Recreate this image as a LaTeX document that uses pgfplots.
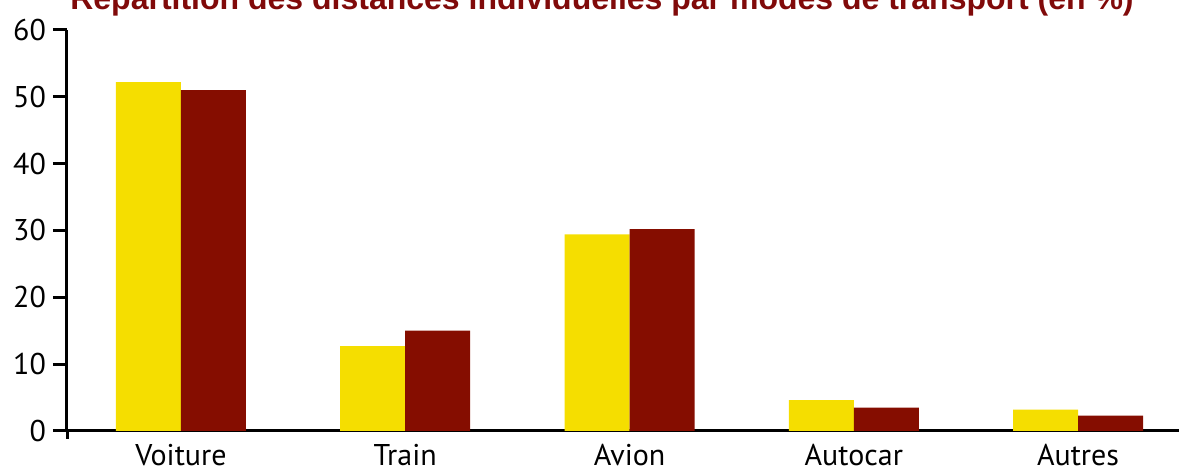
\documentclass[border=0pt]{standalone}
\usepackage{fontspec}
\usepackage{pgfplots}
\pgfplotsset{compat=1.18}
\setmainfont{PT Sans}
\newfontfamily\titlefont{Liberation Sans}

\definecolor{barYellow}{RGB}{245,222,0}
\definecolor{barRed}{RGB}{133,13,0}
\definecolor{titleRed}{RGB}{128,10,10}

\begin{document}
\begin{tikzpicture}
\begin{axis}[
    scale only axis,
    width=556pt, height=200.5pt,
    xmin=-0.508, xmax=4.45,
    ymin=0, ymax=60,
    ytick={0,10,...,60},
    xtick=data,
    xticklabels={Voiture,Train,Avion,Autocar,Autres},
    axis x line=bottom, axis y line=left,
    axis line style={line width=1.5pt, -},
    tick align=outside,
    ytick pos=left,
    major tick length=7pt,
    ytick style={line width=1.5pt, black},
    xtick style={draw=none},
    xticklabel style={yshift=4pt},
    ybar=0pt, bar width=32.5pt,
    /pgf/number format/assume math mode=true,
    tick label style={font=\fontsize{15}{15}\selectfont},
    clip=false,
]
\addplot[fill=barYellow, draw=none] coordinates {(0,52.2) (1,12.7) (2,29.4) (3,4.6) (4,3.2)};
\addplot[fill=barRed, draw=none] coordinates {(0,51.0) (1,15.0) (2,30.2) (3,3.5) (4,2.3)};
\end{axis}
% the y axis runs a little below the x axis
\draw[line width=1.5pt] (current axis.south west) -- ([yshift=-4pt]current axis.south west);
\node[anchor=base, text=titleRed, font=\titlefont\bfseries\fontsize{16}{16}\selectfont]
  at ([xshift=267.5pt, yshift=10pt]current axis.north west) {Répartition des distances individuelles par modes de transport (en \%)};
\pgfresetboundingbox
\path[use as bounding box] ([xshift=-33.5pt, yshift=-20pt]current axis.south west) rectangle ([yshift=15pt]current axis.north east);
\end{tikzpicture}
\end{document}
